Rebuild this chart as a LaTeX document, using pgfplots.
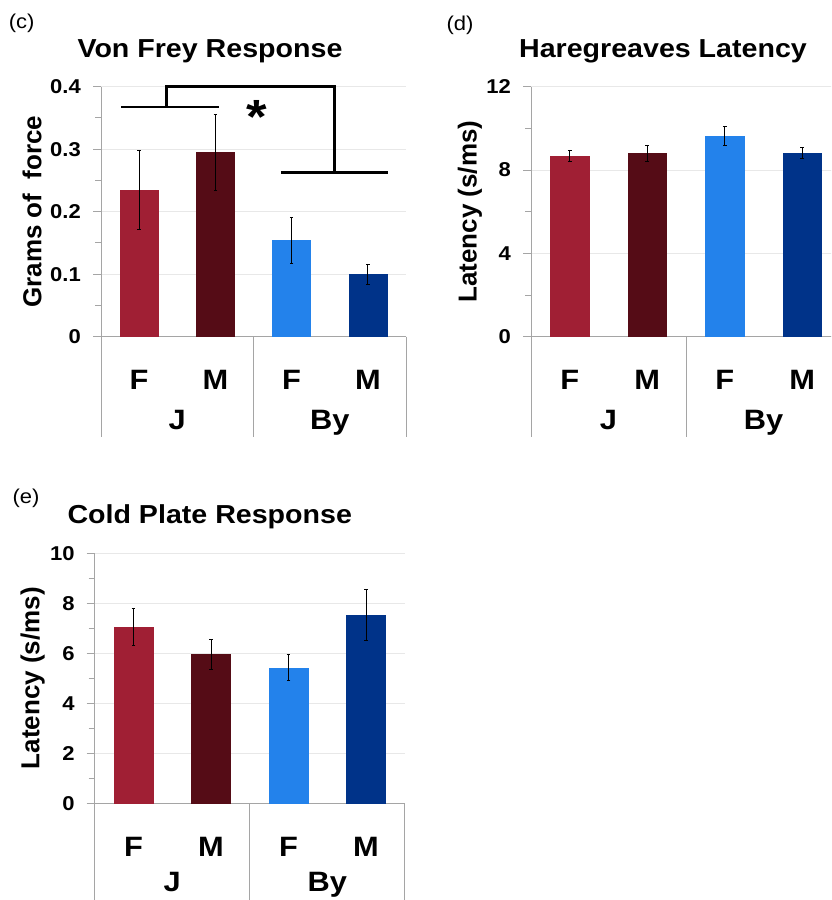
\documentclass[border=0pt]{standalone}
\usepackage{fontspec}
\setmainfont{Liberation Sans}[FakeStretch=1.1]
\newfontfamily\rotfont{Liberation Sans}
\usepackage{pgfplots}
\pgfplotsset{compat=1.18}

\definecolor{jf}{RGB}{160,31,52}
\definecolor{jm}{RGB}{85,12,22}
\definecolor{bf}{RGB}{35,130,235}
\definecolor{bm}{RGB}{0,51,137}
\definecolor{axgray}{RGB}{165,165,165}
\definecolor{gridgray}{RGB}{232,232,232}

\newcommand{\titlefont}{\bfseries\fontsize{26}{28}\selectfont}
\newcommand{\catfont}{\bfseries\fontsize{28}{30}\selectfont}
\newcommand{\tickfont}{\bfseries\fontsize{20}{22}\selectfont}
\newcommand{\ylabfont}{\rotfont\bfseries\fontsize{26}{28}\selectfont}
\newcommand{\panelfont}{\fontsize{20}{22}\selectfont}

\tikzset{sepline/.style={draw=axgray, line width=1pt}}
\pgfplotsset{
  panel/.style={
    scale only axis,
    height=250pt,
    xmin=-0.5, xmax=3.5, ymin=0,
    clip=false,
    axis x line*=bottom, axis y line*=left,
    axis line style={draw=axgray, line width=1pt},
    every tick/.style={draw=axgray, line width=1pt},
    tick align=outside,
    major tick length=8pt, minor tick length=6pt,
    minor y tick num=1,
    ymajorgrids, grid style={draw=gridgray, line width=0.9pt},
    xtick={0,1,2,3}, xticklabels={F,M,F,M},
    major x tick style={draw=none},
    xticklabel style={font=\catfont, anchor=center, yshift=-35.3pt},
    yticklabel style={font=\tickfont, inner sep=0pt, anchor=east, xshift=-12pt,
      /pgf/number format/fixed, /pgf/number format/precision=1},
    /pgf/number format/assume math mode=true,
    every axis y label/.style={at={(axis description cs:0,0.5)}, rotate=90, anchor=center, font=\ylabfont},
    title style={font=\titlefont, anchor=base, at={(axis description cs:0,1)}},
    ybar, bar width=0.5, bar shift=0pt,
    error bars/y dir=both, error bars/y explicit,
    error bars/error bar style={black, line width=0.8pt},
    error bars/error mark options={rotate=90, black, mark size=1.8pt, line width=0.8pt},
  },
}
% group separators and group names below the F/M labels
\newcommand{\groups}[1]{%
  \draw[sepline] (axis cs:-0.5,0) -- ++(0pt,-100.3pt);
  \draw[sepline] (axis cs:1.5,0) -- ++(0pt,-100.3pt);
  \draw[sepline] (axis cs:3.5,0) -- ++(0pt,-100.3pt);
  \node[anchor=base, font=\catfont] at ([yshift=-#1]axis cs:0.5,0) {J};
  \node[anchor=base, font=\catfont] at ([yshift=-#1]axis cs:2.5,0) {By};
}

\begin{document}
\begin{tikzpicture}
\clip (0pt,0pt) rectangle (831pt,900pt);
\path[use as bounding box] (0pt,0pt) rectangle (831pt,900pt);

\node[anchor=base, font=\panelfont] at (21.7pt,871pt) {(c)};
\node[anchor=base, font=\panelfont] at (460pt,869pt) {(d)};
\node[anchor=base, font=\panelfont] at (26pt,396pt) {(e)};

% Von Frey
\begin{axis}[panel, at={(101pt,563.3pt)}, anchor=south west, width=305pt,
  ymax=0.4, ytick={0,0.1,0.2,0.3,0.4},
  ylabel={Grams of\ \ force}, ylabel style={yshift=69pt},
  title={Von Frey Response}, title style={xshift=109pt, yshift=23.4pt}]
\addplot[fill=jf, draw=jf] coordinates {(0,0.235) +- (0,0.063)};
\addplot[fill=jm, draw=jm] coordinates {(1,0.295) +- (0,0.061)};
\addplot[fill=bf, draw=bf] coordinates {(2,0.154) +- (0,0.037)};
\addplot[fill=bm, draw=bm] coordinates {(3,0.100) +- (0,0.016)};
\groups{93.3pt}
% significance bracket
\draw[black, line width=2.6pt] (axis cs:-0.237,0.3675) -- (axis cs:1.05,0.3675);
\draw[black, line width=2.6pt] (axis cs:0.36,0.3675) -- (axis cs:0.36,0.4)
  -- (axis cs:2.56,0.4) -- (axis cs:2.56,0.2624);
\draw[black, line width=2.6pt] (axis cs:1.86,0.2624) -- (axis cs:3.26,0.2624);
\node[font=\bfseries\fontsize{48}{48}\selectfont] at (axis cs:1.54,0.352) {*};
\end{axis}

% Hargreaves
\begin{axis}[panel, at={(531pt,563.3pt)}, anchor=south west, width=310pt,
  ymax=12, ytick={0,4,8,12},
  ylabel={Latency (s/ms)}, ylabel style={yshift=61pt},
  title={Haregreaves Latency}, title style={xshift=132pt, yshift=23.4pt}]
\addplot[fill=jf, draw=jf] coordinates {(0,8.67) +- (0,0.27)};
\addplot[fill=jm, draw=jm] coordinates {(1,8.80) +- (0,0.40)};
\addplot[fill=bf, draw=bf] coordinates {(2,9.63) +- (0,0.46)};
\addplot[fill=bm, draw=bm] coordinates {(3,8.83) +- (0,0.26)};
\groups{93.3pt}
\end{axis}

% Cold plate
\begin{axis}[panel, at={(94.75pt,96.7pt)}, anchor=south west, width=310pt,
  ymax=10, ytick={0,2,4,6,8,10},
  ylabel={Latency (s/ms)}, ylabel style={yshift=62pt},
  title={Cold Plate Response}, title style={xshift=115pt, yshift=23.3pt}]
\addplot[fill=jf, draw=jf] coordinates {(0,7.05) +- (0,0.74)};
\addplot[fill=jm, draw=jm] coordinates {(1,5.97) +- (0,0.60)};
\addplot[fill=bf, draw=bf] coordinates {(2,5.42) +- (0,0.52)};
\addplot[fill=bm, draw=bm] coordinates {(3,7.53) +- (0,1.03)};
\groups{88.5pt}
\end{axis}
\end{tikzpicture}
\end{document}
